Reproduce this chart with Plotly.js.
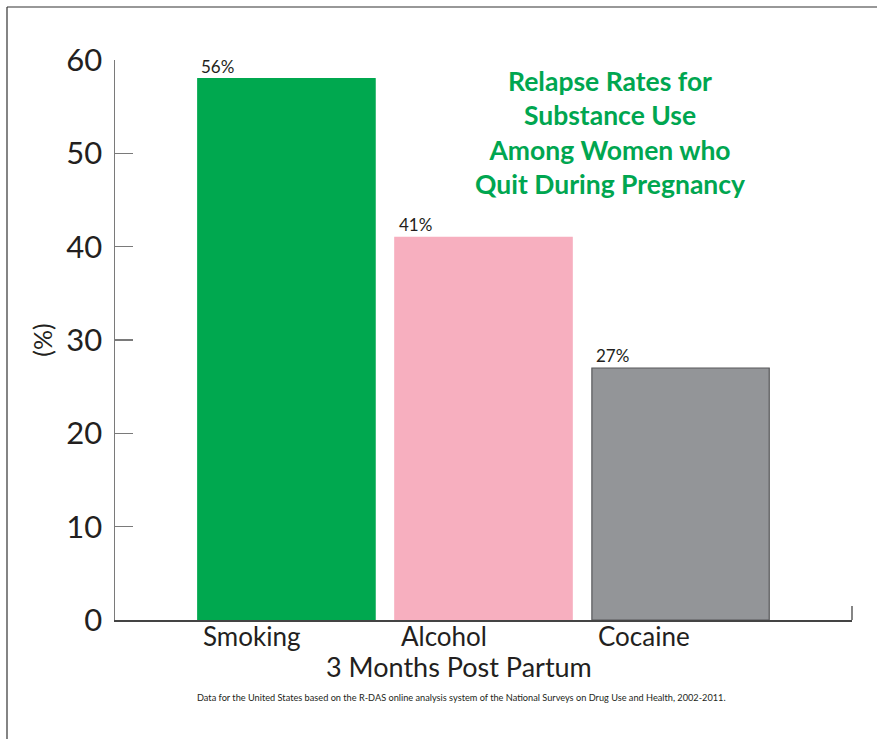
<!DOCTYPE html>
<html>
<head>
<meta charset="utf-8">
<script src="https://cdn.plot.ly/plotly-3.0.1.min.js"></script>
<style>
  html, body { margin: 0; padding: 0; background: #fff; }
  #chart { width: 877px; height: 739px; }
</style>
</head>
<body>
<div id="chart"></div>
<script>
// Data
const categories = ["Smoking", "Alcohol", "Cocaine"];
const values = [58, 41, 27];              // bar heights as drawn
const valueLabels = ["56%", "41%", "27%"]; // labels as printed
const barColors = ["#00A84F", "#F7AFBF", "#939598"];
const barLines = ["#00A84F", "#F7AFBF", "#58595B"];
const yTicks = [0, 10, 20, 30, 40, 50, 60];

const FONT = "Lato, 'Open Sans', sans-serif";
const TXT = "#231F20";

const trace = {
  type: "bar",
  x: categories,
  y: values,
  marker: { color: barColors, line: { color: barLines, width: 1.2 } },
  hoverinfo: "none"
};

const annotations = [];
categories.forEach((c, i) => {
  annotations.push({
    xref: "x", yref: "y", x: c, y: values[i],
    text: valueLabels[i], showarrow: false,
    xanchor: "left", yanchor: "bottom", xshift: -87, yshift: 0,
    font: { family: FONT, size: 17, color: TXT }
  });
  annotations.push({
    xref: "x", yref: "paper", x: c, y: 0,
    text: c, showarrow: false,
    xanchor: "left", yanchor: "top", xshift: -85, yshift: 2,
    font: { family: FONT, size: 26, color: TXT }
  });
});
annotations.push({
  xref: "paper", yref: "paper", x: (459 - 115) / 737, y: 0,
  text: "3 Months Post Partum", showarrow: false,
  xanchor: "center", yanchor: "top", yshift: -28,
  font: { family: FONT, size: 27, color: TXT }
});
annotations.push({
  xref: "paper", yref: "paper", x: (461 - 115) / 737, y: 0,
  text: "Data for the United States based on the R-DAS online analysis system of the National Surveys on Drug Use and Health, 2002-2011.",
  showarrow: false, xanchor: "center", yanchor: "top", yshift: -70,
  font: { family: FONT, size: 9.2, color: TXT }
});
annotations.push({
  xref: "paper", yref: "paper", x: (610 - 115) / 737, y: (620 - 63) / 560,
  text: "<b>Relapse Rates for<br>Substance Use<br>Among Women who<br>Quit During Pregnancy</b>",
  showarrow: false, xanchor: "center", yanchor: "top", align: "center",
  font: { family: FONT, size: 26.5, color: "#00A650", weight: 900 }
});

const layout = {
  width: 877, height: 739,
  margin: { l: 115, r: 25, t: 60, b: 119 },
  paper_bgcolor: "#ffffff", plot_bgcolor: "#ffffff",
  showlegend: false,
  bargap: 0.1,
  xaxis: {
    type: "category",
    range: [-0.87, 2.87],
    showticklabels: false, ticks: "",
    showgrid: false, zeroline: false,
    showline: true, linecolor: "#444444", linewidth: 1.5,
    fixedrange: true
  },
  yaxis: {
    range: [0, 60],
    tickvals: yTicks,
    ticks: "inside", ticklen: 18, tickwidth: 1.3, tickcolor: "#7a7a7a",
    showline: true, linecolor: "#7a7a7a", linewidth: 1.5,
    showgrid: false, zeroline: false,
    ticklabelstandoff: 5,
    tickfont: { family: FONT, size: 31, color: TXT },
    title: { text: "(%)", font: { family: FONT, size: 25, color: TXT }, standoff: 6 },
    fixedrange: true
  },
  annotations: annotations,
  shapes: [
    { type: "line", xref: "paper", yref: "paper", x0: 1, x1: 1, y0: 0, y1: 14 / 560,
      line: { color: "#444444", width: 1.3 } },
    { type: "line", xref: "paper", yref: "paper", x0: (7 - 115) / 737, x1: (880 - 115) / 737,
      y0: (620 - 7) / 560, y1: (620 - 7) / 560, line: { color: "#333333", width: 1.2 } },
    { type: "line", xref: "paper", yref: "paper", x0: (7 - 115) / 737, x1: (7 - 115) / 737,
      y0: (620 - 7) / 560, y1: (620 - 745) / 560, line: { color: "#333333", width: 1.2 } }
  ]
};

Plotly.newPlot("chart", [trace], layout, { displayModeBar: false, staticPlot: true });
</script>
</body>
</html>
